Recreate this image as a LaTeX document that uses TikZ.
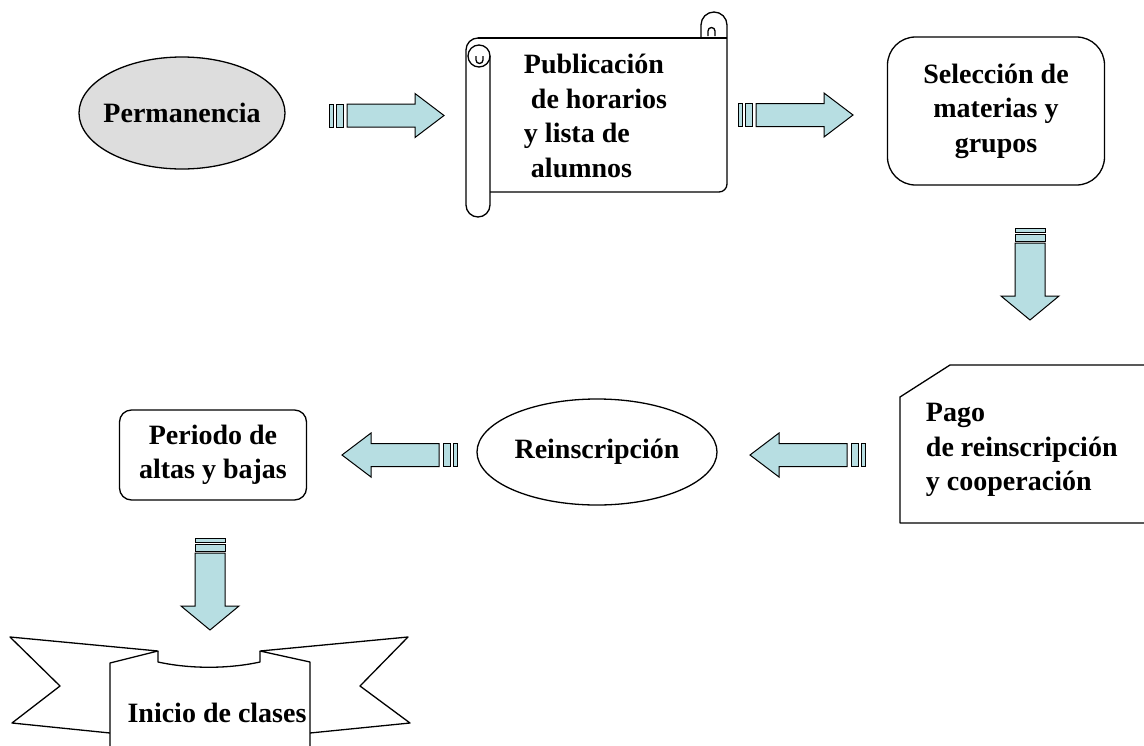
\documentclass[tikz,border=0pt]{standalone}
\usepackage{fontspec}
\setmainfont{Liberation Serif}
\usetikzlibrary{shapes.geometric}
\definecolor{celeste}{RGB}{183,222,226}
\definecolor{grisclaro}{RGB}{221,221,221}
\tikzset{
	flecha/.style={fill=celeste, line width=1pt, line join=miter},
	caja/.style={draw, rectangle, align=center},
	pics/flechader/.style={code={
			\draw[flecha] (0,-11.5) rectangle (4,11.5);
			\draw[flecha] (7,-11.5) rectangle (14,11.5);
			\draw[flecha] (18,-11.5) -- (86,-11.5) -- (86,-22) -- (115,0) 
			-- (86,22) -- (86,11.5) -- (18,11.5) -- cycle;
	}},
	pics/flechaabajo/.style={code={
			\draw[flecha] (-15,0) rectangle (15,4);
			\draw[flecha] (-15,6) rectangle (15,13);
			\draw[flecha] (-15,15) -- (-15,68) -- (-29,68) -- (0,92) 
			-- (29,68) -- (15,68) -- (15,15) -- cycle;
	}}
}
\begin{document}
\begin{tikzpicture}[x=1pt,y=-1pt,line width=1.3pt,line join=round,
	font=\fontsize{28}{34.5}\selectfont\bfseries]
	\useasboundingbox (0,0) rectangle (1144,745);
	% fila de arriba
	\draw[fill=grisclaro] (182,113) ellipse [x radius=103, y radius=56];
	\path (182,113) node(perm){Permanencia}
	(520,116) node[anchor=west,align=left](publ){Publicación\\
		\hspace*{.25em}de horarios\\y lista de\\\hspace*{.25em}alumnos}
	(996,111) node[caja,rounded corners=28,minimum width=217,
	minimum height=148](sele){Selección de\\materias y\\grupos}
	;
	% pergamino
	\draw (478,38) -- (727,38);
	\draw (490,192) -- (719,192) arc[start angle=90,end angle=0,radius=8] 
	-- (727,25) arc[start angle=0,end angle=-180,radius=13] -- (701,38);
	\draw (708,36) -- (708,31) arc[start angle=180,end angle=360,radius=3.5] 
	-- (715,36);
	\draw (478,38) arc[start angle=-90,end angle=-180,radius=12] -- (466,205) 
	arc[start angle=180,end angle=0,radius=12] -- (490,56);
	\draw (479,56) circle[radius=11];
	\draw (476,56) -- (476,60) arc[start angle=180,end angle=0,radius=3.5] 
	-- (483,56);
	% fila de abajo
	\draw (1150,365) -- (950,365) -- (900,397) -- (900,523) -- (1150,523);
	\draw (597,452) ellipse [x radius=120, y radius=53];
	\path (922,450) node[anchor=west,align=left](pago){Pago\\de reinscripción\\
		y cooperación}
	(597,452) node(rein){Reinscripción}
	(213,455) node[caja,rounded corners=12,minimum width=187,
	minimum height=90](peri){Periodo de\\altas y bajas}
	(217,713) node(inic){Inicio de clases}
	;
	% cinta
	\draw (110,760) -- (110,663) -- (158,651) -- (10,637) -- (60,686) 
	-- (12,723) -- (110,733);
	\draw (158,651) -- (158,662) .. controls (190,669) and (228,669) 
	.. (260,662) -- (260,651);
	\draw (310,760) -- (310,662) -- (260,651) -- (408,637) -- (360,686) 
	-- (410,723) -- (310,733);
	% flechas
	\pic at (329,115.5) {flechader};
	\pic at (738,115) {flechader};
	\pic at (1030,228) {flechaabajo};
	\pic[rotate=180] at (865,455) {flechader};
	\pic[rotate=180] at (457,455) {flechader};
	\pic at (210,538) {flechaabajo};
\end{tikzpicture}
\end{document}
